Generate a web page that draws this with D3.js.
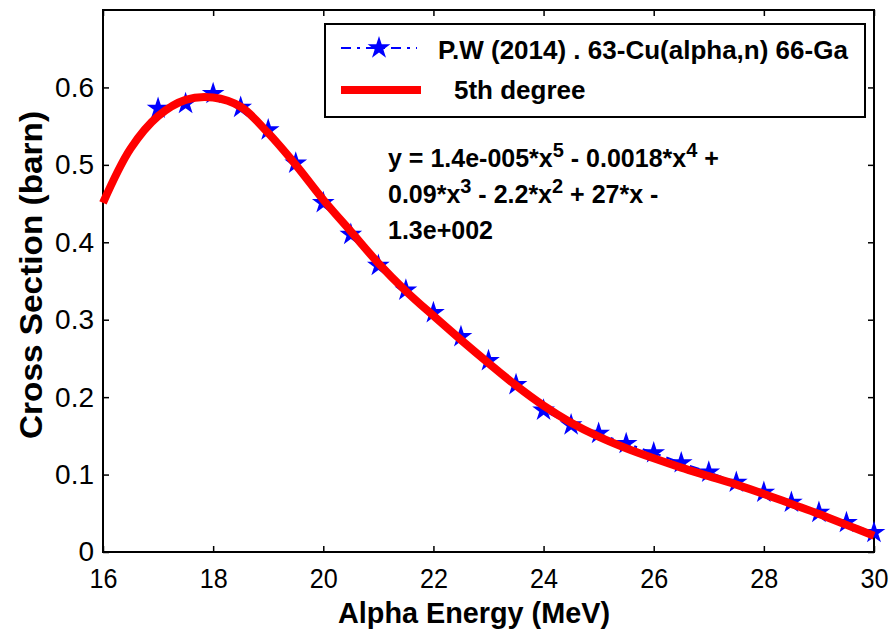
<!DOCTYPE html>
<html>
<head>
<meta charset="utf-8">
<script src="https://cdn.jsdelivr.net/npm/d3@7"></script>
<style>
  html, body { margin: 0; padding: 0; background: #fff; }
  svg { display: block; font-family: "Liberation Sans", Arial, Helvetica, sans-serif; }
</style>
</head>
<body>
<svg id="chart" width="892" height="633"></svg>
<script>
// Measured excitation function, 63-Cu(alpha,n) 66-Ga
const energies = [17, 17.5, 18, 18.5, 19, 19.5, 20, 20.5, 21, 21.5, 22, 22.5, 23, 23.5,
                  24, 24.5, 25, 25.5, 26, 26.5, 27, 27.5, 28, 28.5, 29, 29.5, 30];
const sigma = [0.573, 0.579, 0.592, 0.574, 0.545, 0.502, 0.451, 0.410, 0.370, 0.338, 0.309, 0.278,
               0.247, 0.216, 0.183, 0.164, 0.153, 0.140, 0.128, 0.115, 0.103, 0.090, 0.077, 0.064,
               0.051, 0.038, 0.025];

// 5th degree polynomial fit, sampled along the energy range
const fitEnergies = [16, 16.5, 17, 17.5, 18, 18.5, 19, 19.5, 20, 20.5, 21, 21.5, 22, 22.5, 23,
                     23.5, 24, 24.5, 25, 25.5, 26, 26.5, 27, 27.5, 28, 28.5, 29, 29.5, 30];
const fitSigma = [0.451, 0.521, 0.563, 0.584, 0.587, 0.575, 0.541, 0.500, 0.455, 0.414, 0.373,
                  0.337, 0.305, 0.274, 0.244, 0.215, 0.189, 0.167, 0.149, 0.134, 0.121, 0.109,
                  0.098, 0.087, 0.075, 0.062, 0.049, 0.035, 0.021];

const xTicks = [16, 18, 20, 22, 24, 26, 28, 30];
const yTicks = [0, 0.1, 0.2, 0.3, 0.4, 0.5, 0.6];
const xTickLabels = ["16", "18", "20", "22", "24", "26", "28", "30"];
const yTickLabels = ["0", "0.1", "0.2", "0.3", "0.4", "0.5", "0.6"];

const legendLabels = ["P.W (2014) . 63-Cu(alpha,n) 66-Ga", "5th degree"];
const equationLines = [
  [["y = 1.4e-005*x", false], ["5", true], [" - 0.0018*x", false], ["4", true], [" +", false]],
  [["0.09*x", false], ["3", true], [" - 2.2*x", false], ["2", true], [" + 27*x -", false]],
  [["1.3e+002", false]]
];

const svg = d3.select("#chart");
const plotL = 103, plotR = 874, plotT = 10, plotB = 552;

const x = d3.scaleLinear().domain([16, 30]).range([plotL, plotR]);
const y = d3.scaleLinear().domain([0, 0.7]).range([plotB, plotT]);

const tickLen = 6;

// Axes with inward ticks on all four sides
const gx = svg.append("g").attr("transform", `translate(0,${plotB})`)
  .call(d3.axisBottom(x).tickValues(xTicks).tickSize(-tickLen).tickPadding(16)
    .tickFormat((d, i) => xTickLabels[i]));
const gxt = svg.append("g").attr("transform", `translate(0,${plotT})`)
  .call(d3.axisTop(x).tickValues(xTicks).tickSize(-tickLen).tickFormat(""));
const gy = svg.append("g").attr("transform", `translate(${plotL},0)`)
  .call(d3.axisLeft(y).tickValues(yTicks).tickSize(-tickLen).tickPadding(9)
    .tickFormat((d, i) => yTickLabels[i]));
const gyr = svg.append("g").attr("transform", `translate(${plotR},0)`)
  .call(d3.axisRight(y).tickValues(yTicks).tickSize(-tickLen).tickFormat(""));

[gx, gxt, gy, gyr].forEach(g => {
  g.select(".domain").remove();
  g.selectAll(".tick line").attr("stroke", "#000").attr("stroke-width", 1.5);
});
gx.selectAll(".tick text").attr("font-size", 28).attr("fill", "#000")
  .attr("font-family", "'Liberation Sans', Arial, sans-serif")
  .attr("textLength", 28).attr("lengthAdjust", "spacingAndGlyphs");
gy.selectAll(".tick text").attr("font-size", 28).attr("fill", "#000")
  .attr("font-family", "'Liberation Sans', Arial, sans-serif");

// Plot box
svg.append("rect")
  .attr("x", plotL).attr("y", plotT)
  .attr("width", plotR - plotL).attr("height", plotB - plotT)
  .attr("fill", "none").attr("stroke", "#000").attr("stroke-width", 2);

// Measured data: dash-dot line with star markers
const dataLine = d3.line().x((d, i) => x(energies[i])).y(d => y(d));
svg.append("path")
  .datum(sigma)
  .attr("d", dataLine)
  .attr("fill", "none").attr("stroke", "#0000ff").attr("stroke-width", 2)
  .attr("stroke-dasharray", "10,6,3,6");

const star = d3.symbol().type(d3.symbolStar).size(160);
svg.append("g").selectAll("path")
  .data(sigma)
  .join("path")
  .attr("d", star)
  .attr("transform", (d, i) => `translate(${x(energies[i])},${y(d)})`)
  .attr("fill", "#0000ff");

// Fitted curve
const fitLine = d3.line().x((d, i) => x(fitEnergies[i])).y(d => y(d)).curve(d3.curveCatmullRom);
svg.append("path")
  .datum(fitSigma)
  .attr("d", fitLine)
  .attr("fill", "none").attr("stroke", "#ff0000").attr("stroke-width", 8)
  .attr("stroke-linejoin", "round");

// Axis titles
svg.append("text")
  .attr("x", 474).attr("y", 623)
  .attr("text-anchor", "middle")
  .attr("font-size", 30).attr("font-weight", "bold")
  .attr("textLength", 272).attr("lengthAdjust", "spacingAndGlyphs")
  .text("Alpha Energy (MeV)");
svg.append("text")
  .attr("transform", `translate(42,275) rotate(-90)`)
  .attr("text-anchor", "middle")
  .attr("font-size", 32).attr("font-weight", "bold")
  .attr("textLength", 328).attr("lengthAdjust", "spacingAndGlyphs")
  .text("Cross Section (barn)");

// Legend
const lg = svg.append("g");
lg.append("rect")
  .attr("x", 325).attr("y", 24).attr("width", 540).attr("height", 93)
  .attr("fill", "#fff").attr("stroke", "#000").attr("stroke-width", 2);
lg.append("line")
  .attr("x1", 341).attr("x2", 417).attr("y1", 48).attr("y2", 48)
  .attr("stroke", "#0000ff").attr("stroke-width", 2).attr("stroke-dasharray", "10,6,3,6");
lg.append("path")
  .attr("d", star)
  .attr("transform", "translate(379,48)")
  .attr("fill", "#0000ff");
lg.append("line")
  .attr("x1", 341).attr("x2", 421).attr("y1", 90).attr("y2", 90)
  .attr("stroke", "#ff0000").attr("stroke-width", 8);
lg.append("text").attr("x", 438).attr("y", 59)
  .attr("font-size", 26).attr("font-weight", "bold").text(legendLabels[0]);
lg.append("text").attr("x", 454).attr("y", 99)
  .attr("font-size", 26).attr("font-weight", "bold").text(legendLabels[1]);

// Fit equation
const eq = svg.append("text")
  .attr("font-size", 25).attr("font-weight", "bold");
equationLines.forEach((line, li) => {
  line.forEach(([txt, sup], pi) => {
    const t = eq.append("tspan").text(txt);
    if (pi === 0) t.attr("x", 388).attr("y", 167 + li * 36);
    if (sup) t.attr("dy", -10).attr("font-size", 20);
    else if (pi > 0 && line[pi - 1][1]) t.attr("dy", 10);
  });
});
</script>
</body>
</html>
